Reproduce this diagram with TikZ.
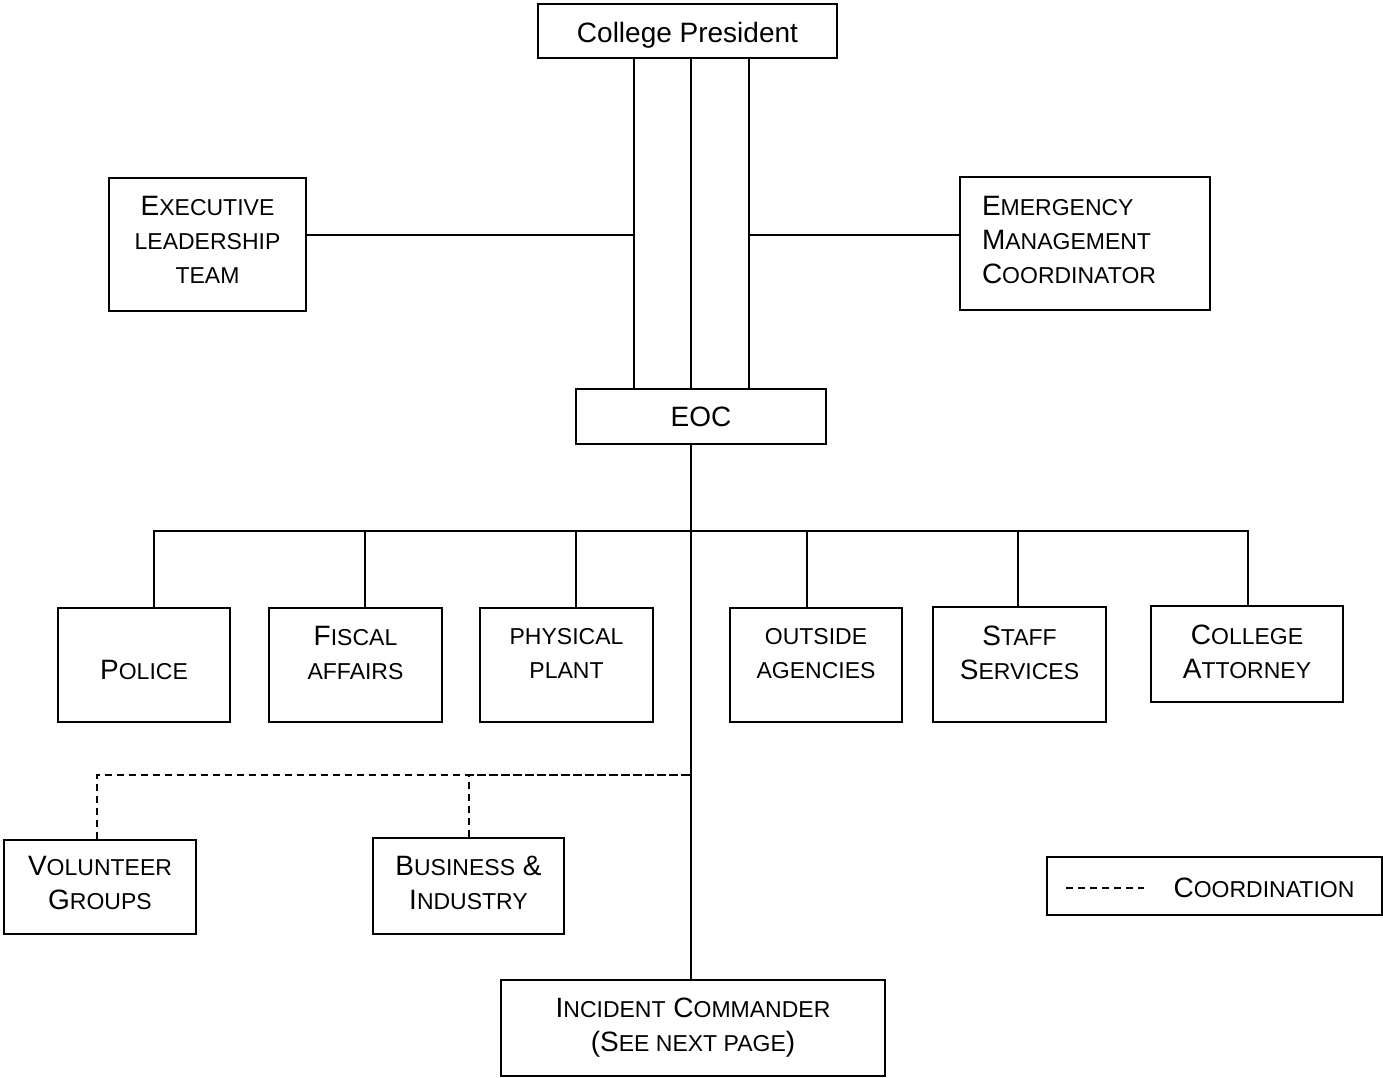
\documentclass[tikz,border=0pt]{standalone}
\usepackage{fontspec}
\setmainfont{Liberation Sans}
\newcommand{\lc}[1]{{\fontsize{23}{34}\selectfont #1}}

\begin{document}
\begin{tikzpicture}[x=1pt,y=-1pt,
  box/.style={draw, line width=1.5pt, align=center, inner sep=0pt, font=\fontsize{28}{34}\selectfont},
  link/.style={line width=1.5pt},
  coordline/.style={line width=1.3pt, dash pattern=on 7pt off 5pt},
  lift/.style={text depth=#1}]
\useasboundingbox (0,0) rectangle (1383,1078);

\node[box, text height=28pt, minimum width=299pt, minimum height=54pt] (pres) at (687.5,31) {College President};
\node[box, lift=9pt, minimum width=197pt, minimum height=133pt] (exec) at (207.5,244.5) {E\lc{XECUTIVE}\\\lc{LEADERSHIP}\\\lc{TEAM}};
\node[box, lift=76pt, align=left, text width=206pt, inner xsep=22pt, minimum height=133pt] (emc) at (1085,243.5) {E\lc{MERGENCY}\\M\lc{ANAGEMENT}\\C\lc{OORDINATOR}};
\node[box, minimum width=250pt, minimum height=55pt] (eoc) at (701,416.5) {EOC};

\node[box, text height=30pt, minimum width=172pt, minimum height=114pt] (police) at (144,665) {P\lc{OLICE}};
\node[box, lift=24pt, minimum width=173pt, minimum height=114pt] (fiscal) at (355.5,665) {F\lc{ISCAL}\\\lc{AFFAIRS}};
\node[box, lift=24pt, minimum width=173pt, minimum height=114pt] (plant) at (566.5,665) {\lc{PHYSICAL}\\\lc{PLANT}};
\node[box, lift=24pt, minimum width=172pt, minimum height=114pt] (agencies) at (816,665) {\lc{OUTSIDE}\\\lc{AGENCIES}};
\node[box, lift=24pt, minimum width=173pt, minimum height=115pt] (staff) at (1019.5,664.5) {S\lc{TAFF}\\S\lc{ERVICES}};
\node[box, lift=4pt, minimum width=192pt, minimum height=96pt] (attorney) at (1247,654) {C\lc{OLLEGE}\\A\lc{TTORNEY}};

\node[box, lift=8pt, minimum width=192pt, minimum height=94pt] (volunteer) at (100,887) {V\lc{OLUNTEER}\\G\lc{ROUPS}};
\node[box, lift=6pt, minimum width=191pt, minimum height=96pt] (business) at (468.5,886) {B\lc{USINESS} \&\\I\lc{NDUSTRY}};
\node[box, minimum width=384pt, minimum height=96pt] (ic) at (693,1028) {I\lc{NCIDENT} C\lc{OMMANDER}\\(S\lc{EE NEXT PAGE})};

% legend
\node[box, minimum width=335pt, minimum height=58pt] (legend) at (1214.5,886) {};
\node[font=\fontsize{28}{34}\selectfont, inner sep=0pt] (legtxt) at (1264,888) {C\lc{OORDINATION}};
\draw[coordline] ([xshift=20pt,yshift=-2pt]legend.west) -- ([xshift=98pt,yshift=-2pt]legend.west);

% president to EOC
\coordinate (pl) at ([xshift=-53.5pt]pres.south);
\coordinate (pm) at ([xshift=3.5pt]pres.south);
\coordinate (pr) at ([xshift=61.5pt]pres.south);
\draw[link] (pl) -- (pl |- eoc.north);
\draw[link] (pm) -- (pm |- eoc.north);
\draw[link] (pr) -- (pr |- eoc.north);
\draw[link] ([yshift=9.5pt]exec.east) -- ([yshift=9.5pt]exec.east -| pl);
\draw[link] ([yshift=8.5pt]emc.west) -- ([yshift=8.5pt]emc.west -| pr);

% EOC down
\coordinate (spine) at (pm |- 0,531);
\coordinate (coord) at (pm |- 0,775);
\draw[link] (eoc.south -| pm) -- (ic.north -| pm);
\draw[link] ([xshift=10pt]police.north) |- (spine);
\draw[link] ([xshift=9.5pt]fiscal.north) |- (spine);
\draw[link] ([xshift=9.5pt]plant.north) |- (spine);
\draw[link] ([xshift=-9pt]agencies.north) |- (spine);
\draw[link] ([xshift=-1.5pt]staff.north) |- (spine);
\draw[link] ([xshift=1pt]attorney.north) |- (spine);

% coordination
\draw[coordline] ([xshift=-3pt]volunteer.north) |- (coord);
\draw[coordline] ([xshift=0.5pt]business.north) |- (coord);
\end{tikzpicture}
\end{document}
